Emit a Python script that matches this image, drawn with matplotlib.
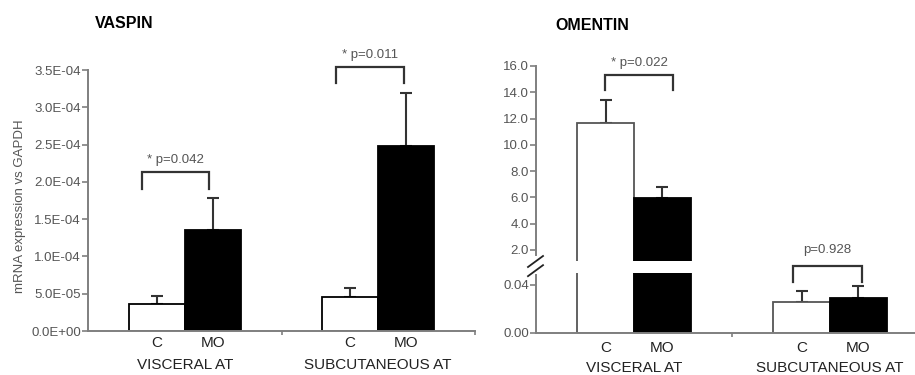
import numpy as np
import matplotlib.pyplot as plt
from matplotlib.ticker import FuncFormatter, FixedLocator

plt.rcParams['font.family'] = ['Liberation Sans', 'DejaVu Sans']

# data
groups = ['VISCERAL AT', 'SUBCUTANEOUS AT']
conds = ['C', 'MO']

vaspin_c = [3.6e-5, 4.5e-5]
vaspin_c_err = [1.1e-5, 1.3e-5]
vaspin_mo = [1.36e-4, 2.48e-4]
vaspin_mo_err = [0.42e-4, 0.71e-4]
vaspin_p = ['* p=0.042', '* p=0.011']

omentin_c = [11.63, 0.026]
omentin_c_err = [1.77, 0.0092]
omentin_mo = [5.93, 0.0293]
omentin_mo_err = [0.88, 0.0101]
omentin_p = ['* p=0.022', 'p=0.928']

vaspin_ticks = np.arange(0, 3.51e-4, 0.5e-4)
omentin_hi_ticks = np.arange(2, 16.1, 2)
omentin_lo_ticks = [0.00, 0.04]

AX_COL = '#7f7f7f'
TXT_COL = '#555555'
W = 0.29
OFF = 0.145

fig = plt.figure(figsize=(9.15, 3.75), dpi=100)


def style_axes(ax, bottom=True):
    for s in ['top', 'right']:
        ax.spines[s].set_visible(False)
    ax.spines['left'].set_color(AX_COL)
    ax.spines['left'].set_linewidth(1.4)
    ax.spines['bottom'].set_color(AX_COL)
    ax.spines['bottom'].set_linewidth(1.4)
    if not bottom:
        ax.spines['bottom'].set_visible(False)
    ax.tick_params(axis='y', direction='out', length=4, width=1.2, color=AX_COL,
                   labelcolor=TXT_COL, labelsize=9.5, pad=1)
    ax.set_xlim(0, 2)


def draw_bars(ax, c, c_err, mo, mo_err, edge):
    x = np.arange(len(groups)) + 0.5
    ax.bar(x - OFF, c, W, color='white', edgecolor=edge, linewidth=1.3, zorder=2)
    ax.bar(x + OFF, mo, W, color='black', edgecolor='black', linewidth=1.3, zorder=2)
    ax.errorbar(x - OFF, c, yerr=[np.zeros(len(c)), c_err], fmt='none', ecolor='#333333',
                elinewidth=1.5, capsize=4, capthick=1.5, zorder=1)
    ax.errorbar(x + OFF, mo, yerr=[np.zeros(len(mo)), mo_err], fmt='none', ecolor='#333333',
                elinewidth=1.5, capsize=4, capthick=1.5, zorder=1)


def x_labels(ax, lab_pt, grp_pt):
    x = np.arange(len(groups)) + 0.5
    ax.xaxis.set_major_locator(FixedLocator([1, 2]))
    ax.set_xticklabels([])
    ax.tick_params(axis='x', direction='out', length=3, width=1.2, color=AX_COL)
    tr = ax.get_xaxis_transform()
    for i, g in enumerate(groups):
        for dx, cn in zip([-OFF, OFF], conds):
            ax.annotate(cn, (x[i] + dx, 0), xycoords=tr, xytext=(0, -lab_pt),
                        textcoords='offset points', ha='center', va='center',
                        fontsize=11, color='#222222', annotation_clip=False)
        ax.annotate(g, (x[i], 0), xycoords=tr, xytext=(0, -grp_pt),
                    textcoords='offset points', ha='center', va='center',
                    fontsize=11, color='#222222', annotation_clip=False)


def bracket(ax, x0, x1, yb, yt, text, text_pt):
    ax.plot([x0, x0, x1, x1], [yb, yt, yt, yb], color='#333333', lw=1.6,
            clip_on=False, solid_joinstyle='miter')
    ax.annotate(text, ((x0 + x1) / 2, yt), xytext=(0, text_pt), textcoords='offset points',
                ha='center', va='center', fontsize=9.5, color=TXT_COL, annotation_clip=False)


# ---------------- VASPIN ----------------
ax1 = fig.add_axes([88 / 915, 44 / 375, 387 / 915, 261 / 375])
style_axes(ax1)
draw_bars(ax1, vaspin_c, vaspin_c_err, vaspin_mo, vaspin_mo_err, 'black')
ax1.set_ylim(0, 3.5e-4)
ax1.set_yticks(vaspin_ticks)
ax1.yaxis.set_major_formatter(FuncFormatter(lambda v, p: f'{v:.1E}'))
x_labels(ax1, 8.5, 24.5)
ax1.set_ylabel('mRNA expression vs GAPDH', fontsize=9.5, color=TXT_COL)
ax1.yaxis.set_label_coords(-62 / 387, 0.48)
bx = [(0.28, 0.625), (1.28, 1.633)]
for i in range(len(groups)):
    top = max(vaspin_c[i] + vaspin_c_err[i], vaspin_mo[i] + vaspin_mo_err[i])
    bracket(ax1, bx[i][0], bx[i][1], top + 0.13e-4, top + 0.35e-4, vaspin_p[i], 9)
fig.text(95 / 915, 1 - 24 / 375, 'VASPIN', fontsize=11.5, fontweight='bold', va='center')

# ---------------- OMENTIN ----------------
ax_hi = fig.add_axes([536 / 915, 114 / 375, 392 / 915, 195 / 375])
ax_lo = fig.add_axes([536 / 915, 42.3 / 375, 392 / 915, 59.7 / 375])
style_axes(ax_hi, bottom=False)
style_axes(ax_lo)
for ax in (ax_hi, ax_lo):
    draw_bars(ax, omentin_c, omentin_c_err, omentin_mo, omentin_mo_err, '#555555')
ax_hi.set_ylim(1.16, 16.0)
ax_hi.set_yticks(omentin_hi_ticks)
ax_hi.yaxis.set_major_formatter(FuncFormatter(lambda v, p: f'{v:.1f}'))
ax_hi.spines['left'].set_bounds(1.62, 16.0)
ax_hi.set_xticks([])
ax_lo.set_ylim(0, 0.05)
ax_lo.set_yticks(omentin_lo_ticks)
ax_lo.yaxis.set_major_formatter(FuncFormatter(lambda v, p: f'{v:.2f}'))
ax_lo.spines['left'].set_bounds(0, 0.0485)
x_labels(ax_lo, 11, 25.5)

# brackets
bracket(ax_hi, 0.352, 0.699, omentin_c[0] + omentin_c_err[0] + 0.77,
        omentin_c[0] + omentin_c_err[0] + 1.9, omentin_p[0], 9)
top = max(omentin_c[1] + omentin_c_err[1], omentin_mo[1] + omentin_mo_err[1])
bracket(ax_lo, 1.311, 1.663, top + 0.0034, top + 0.0168, omentin_p[1], 11)

# break marks on the y axis
for dy in (0.0, -0.047):
    ax_hi.plot([-8 / 392, 7 / 392], [(261 - 267) / 195 + dy, (261 - 256) / 195 + dy],
               transform=ax_hi.transAxes, color='#222222', lw=1.3, clip_on=False)

fig.text(555 / 915, 1 - 26 / 375, 'OMENTIN', fontsize=11.5, fontweight='bold', va='center')

fig.savefig('out.png', dpi=100)
